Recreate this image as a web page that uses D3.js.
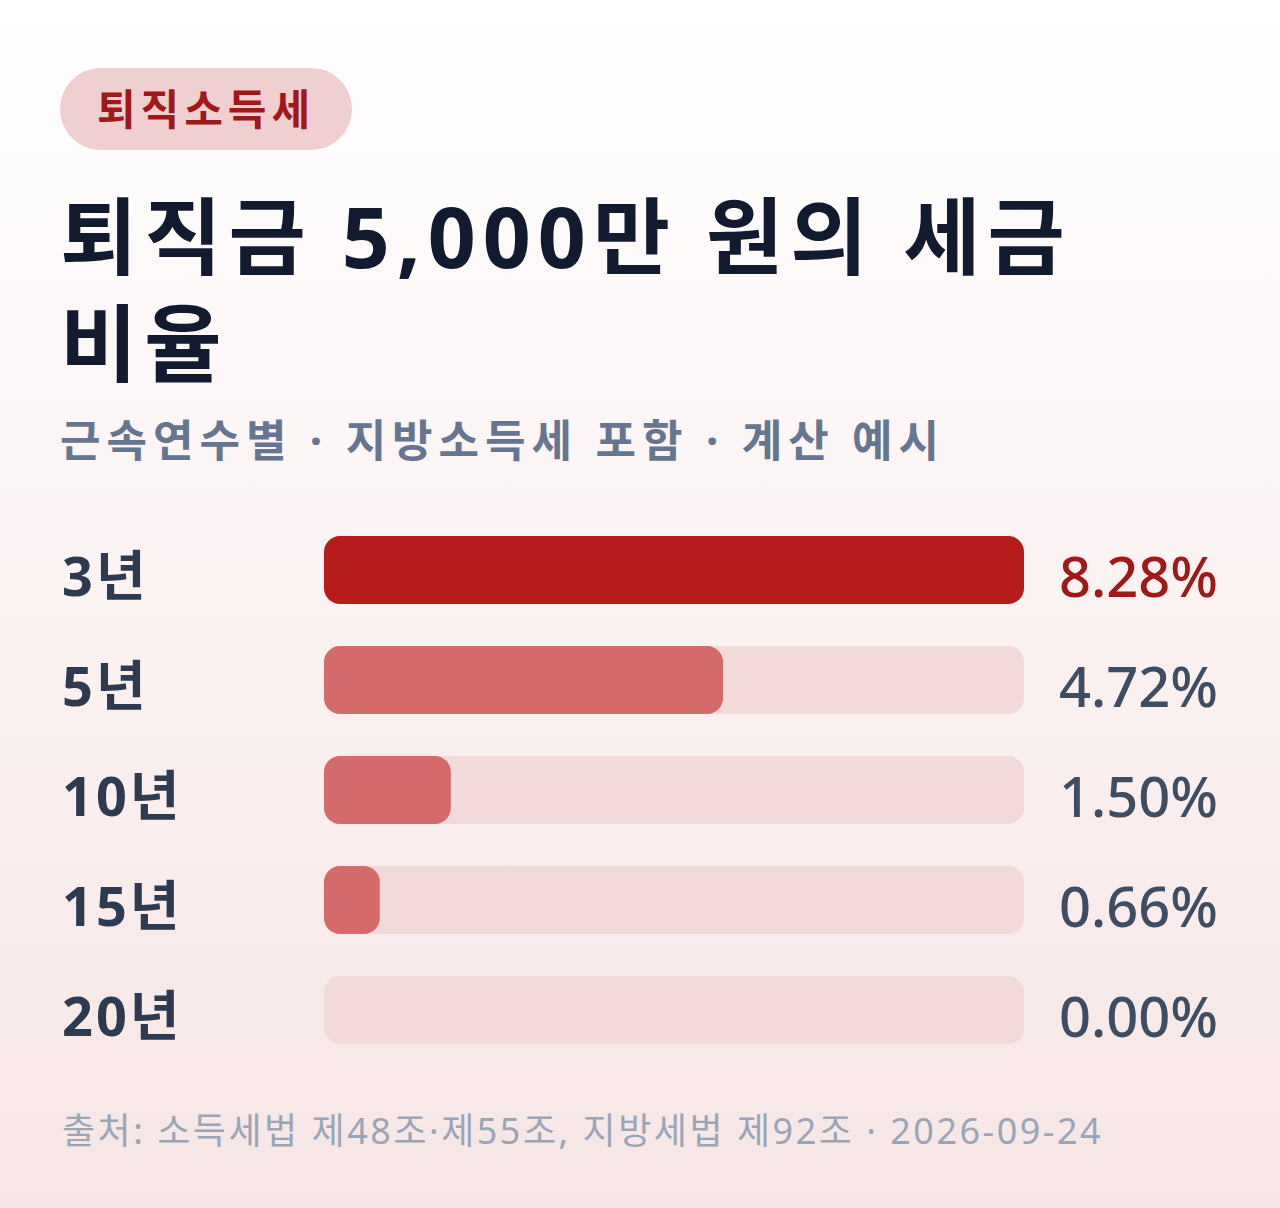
<!DOCTYPE html>
<html><head><meta charset="utf-8">
<script src="https://cdn.jsdelivr.net/npm/d3@7"></script>
<style>body{margin:0}svg{display:block}</style></head>
<body><svg id="c" width="1280" height="1208"></svg>
<script>
const categories = ["3년","5년","10년","15년","20년"];
const values = [8.28,4.72,1.50,0.66,0.00];
const valueLabels = ["8.28%","4.72%","1.50%","0.66%","0.00%"];
const F = "'Noto Sans','Noto Sans CJK KR',sans-serif";
const svg = d3.select("#c");
const defs = svg.append("defs");
const g = defs.append("linearGradient").attr("id","bg").attr("x1",0).attr("y1",0).attr("x2",0).attr("y2",1);
g.append("stop").attr("offset",0).attr("stop-color","#ffffff");
g.append("stop").attr("offset",1).attr("stop-color","#f7e5e5");
svg.append("rect").attr("width",1280).attr("height",1208).attr("fill","url(#bg)");
svg.append("rect").attr("x",60).attr("y",68).attr("width",292).attr("height",82).attr("rx",41).attr("fill","#f0cfd0");
svg.append("text").attr("x",206).attr("y",125).attr("text-anchor","middle").attr("font-family",F).attr("font-weight",700).attr("font-size",42).attr("letter-spacing",5).attr("fill","#a01818").text("퇴직소득세");
const t = svg.append("text").attr("font-family",F).attr("font-weight",700).attr("font-size",84).attr("fill","#111a2e").attr("letter-spacing",7);
t.append("tspan").attr("x",60).attr("y",268).text("퇴직금 5,000만 원의 세금");
t.append("tspan").attr("x",60).attr("y",375).text("비율");
svg.append("text").attr("x",60).attr("y",457).attr("font-family",F).attr("font-weight",700).attr("font-size",44).attr("letter-spacing",6).attr("fill","#667690").text("근속연수별 · 지방소득세 포함 · 계산 예시");
const x = d3.scaleLinear().domain([0,d3.max(values)]).range([0,700]);
const y = d3.scaleBand().domain(categories).range([536,1044]).paddingInner(42/110).paddingOuter(0);
const row = svg.selectAll("g.r").data(categories).join("g").attr("transform",d=>`translate(0,${y(d)})`);
const bh = y.bandwidth();
row.append("rect").attr("x",324).attr("width",700).attr("height",bh).attr("rx",16).attr("fill","#f2dada");
row.append("rect").attr("x",324).attr("width",(d,i)=>x(values[i])).attr("height",bh).attr("rx",16).attr("fill",(d,i)=>i===0?"#b71c1c":"#d46a6a");
row.append("text").attr("x",62).attr("y",60).attr("font-family",F).attr("font-weight",700).attr("font-size",54).attr("letter-spacing",3).attr("fill","#2d3a50").text(d=>d);
row.append("text").attr("x",1218).attr("y",61).attr("text-anchor","end").attr("font-family",F).attr("font-weight",500).attr("font-size",56).attr("fill",(d,i)=>i===0?"#a01818":"#3f4d63").text((d,i)=>valueLabels[i]);
svg.append("text").attr("x",62).attr("y",1144).attr("font-family",F).attr("font-size",36).attr("letter-spacing",2.5).attr("fill","#9aa6b8").text("출처: 소득세법 제48조·제55조, 지방세법 제92조 · 2026-09-24");
</script></body></html>
